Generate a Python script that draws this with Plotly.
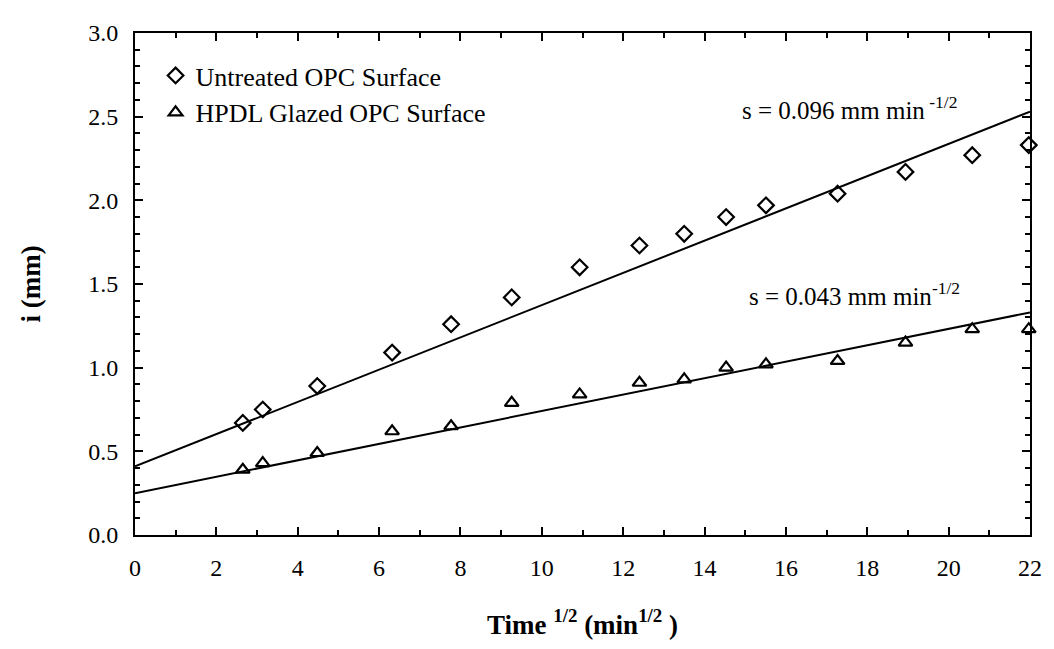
import plotly.graph_objects as go

# Data
time_sqrt = [2.65, 3.14, 4.48, 6.32, 7.77, 9.26, 10.93, 12.40, 13.50, 14.53, 15.51, 17.27, 18.94, 20.58, 21.97]
untreated = [0.67, 0.75, 0.89, 1.09, 1.26, 1.42, 1.60, 1.73, 1.80, 1.90, 1.97, 2.04, 2.17, 2.27, 2.33]
glazed = [0.39, 0.43, 0.49, 0.62, 0.65, 0.79, 0.84, 0.91, 0.93, 1.00, 1.02, 1.04, 1.15, 1.23, 1.23]

fit_x = [0, 22]
fit_untreated = [0.41, 2.53]
fit_glazed = [0.25, 1.33]

x_ticks = list(range(0, 23, 2))
y_ticks = [0.0, 0.5, 1.0, 1.5, 2.0, 2.5, 3.0]

FONT = "Liberation Serif"

fig = go.Figure()
fig.add_trace(go.Scatter(x=fit_x, y=fit_untreated, mode="lines",
                         line=dict(color="black", width=2), showlegend=False, hoverinfo="skip"))
fig.add_trace(go.Scatter(x=fit_x, y=fit_glazed, mode="lines",
                         line=dict(color="black", width=2), showlegend=False, hoverinfo="skip"))
fig.add_trace(go.Scatter(x=time_sqrt, y=untreated, mode="markers", name="Untreated OPC Surface",
                         marker=dict(symbol="diamond-open", size=12, color="black",
                                     line=dict(width=2.2, color="black")), cliponaxis=False))
fig.add_trace(go.Scatter(x=time_sqrt, y=glazed, mode="markers", name="HPDL Glazed OPC Surface",
                         marker=dict(symbol="triangle-up-open", size=12, color="black",
                                     line=dict(width=2.2, color="black")), cliponaxis=False))

fig.add_annotation(x=17.57, y=2.55, text="s = 0.096 mm min<sup> -1/2</sup>", showarrow=False,
                   font=dict(family=FONT, size=25, color="black"))
fig.add_annotation(x=17.69, y=1.44, text="s = 0.043 mm min<sup>-1/2</sup>", showarrow=False,
                   font=dict(family=FONT, size=25, color="black"))

axis_common = dict(showgrid=False, zeroline=False, showline=True, linecolor="black", linewidth=2,
                   mirror="ticks", ticks="inside", ticklen=8, tickwidth=2, tickcolor="black",
                   ticklabelstandoff=10,
                   tickfont=dict(family=FONT, size=24, color="black"))

fig.update_xaxes(range=[0, 22], tickvals=x_ticks, ticktext=[str(v) for v in x_ticks],
                 minor=dict(ticks="inside", ticklen=5, tickwidth=2, tickcolor="black", dtick=1),
                 title=dict(text="<b>Time <sup>1/2</sup> (min<sup>1/2</sup> )</b>",
                            font=dict(family=FONT, size=27, color="black"), standoff=35),
                 **axis_common)
fig.update_yaxes(range=[0, 3], tickvals=y_ticks, ticktext=[f"{v:.1f}" for v in y_ticks],
                 minor=dict(ticks="inside", ticklen=5, tickwidth=2, tickcolor="black", dtick=0.1),
                 title=dict(text="<b>i (mm)</b>", font=dict(family=FONT, size=27, color="black"),
                            standoff=40),
                 **axis_common)

# The page body has an 8px margin, so the figure is sized/margined to compensate
fig.update_layout(
    width=1046, height=641,
    margin=dict(l=127, r=21, t=16, b=114),
    paper_bgcolor="white", plot_bgcolor="white",
    showlegend=True,
    legend=dict(x=0.023, y=0.962, xanchor="left", yanchor="top", bgcolor="rgba(0,0,0,0)",
                font=dict(family=FONT, size=26, color="black"), itemwidth=30),
)

fig.write_html("out.html")
